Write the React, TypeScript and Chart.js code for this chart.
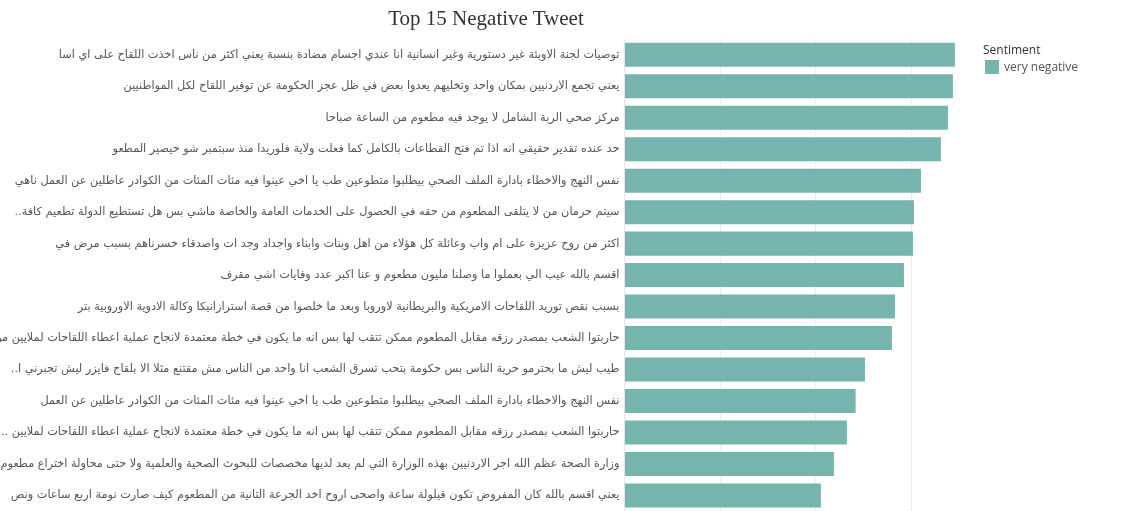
import React, { useEffect, useRef } from "react";
import { Chart, registerables } from "chart.js";

Chart.register(...registerables);

const TITLE = "Top 15 Negative Tweet";
const LEGEND_TITLE = "Sentiment";
const SERIES_NAME = "very negative";

const tweets: string[] = [
  "توصيات لجنة الاوبئة غير دستورية وغير انسانية انا عندي اجسام مضادة بنسبة يعني اكثر من ناس اخذت اللقاح على اي اسا",
  "يعني تجمع الاردنيين بمكان واحد وتخليهم يعدوا بعض في ظل عجز الحكومة عن توفير اللقاح لكل المواطنيين",
  "مركز صحي الربة الشامل لا يوجد فيه مطعوم من الساعة صباحا",
  "حد عنده تقدير حقيقي انه اذا تم فتح القطاعات بالكامل كما فعلت ولاية فلوريدا منذ سبتمبر شو حيصير المطعو",
  "نفس النهج والاخطاء بادارة الملف الصحي بيطلبوا متطوعين طب يا اخي عينوا فيه مئات المئات من الكوادر عاطلين عن العمل ناهي",
  "سيتم حرمان من لا يتلقى المطعوم من حقه في الحصول على الخدمات العامة والخاصة ماشي بس هل تستطيع الدولة تطعيم كافة..",
  "اكثر من روح عزيزة على ام واب وعائلة كل هؤلاء من اهل وبنات وابناء واجداد وجد ات واصدقاء خسرناهم بسبب مرض في",
  "اقسم بالله عيب الي بعملوا ما وصلنا مليون مطعوم و عنا اكبر عدد وفايات اشي مقرف",
  "بسبب نقص توريد اللقاحات الامريكية والبريطانية لاوروبا وبعد ما خلصوا من قصة استرازانيكا وكالة الادوية الاوروبية بتر",
  "حاربتوا الشعب بمصدر رزقه مقابل المطعوم ممكن تتقب لها بس انه ما يكون في خطة معتمدة لانجاح عملية اعطاء اللقاحات لملايين من",
  "طيب ليش ما بحترمو حرية الناس بس حكومة بتحب تسرق الشعب انا واحد من الناس مش مقتنع مثلا الا بلقاح فايزر ليش تجبرني ا..",
  "نفس النهج والاخطاء بادارة الملف الصحي بيطلبوا متطوعين طب يا اخي عينوا فيه مئات المئات من الكوادر عاطلين عن العمل",
  "حاربتوا الشعب بمصدر رزقه مقابل المطعوم ممكن تتقب لها بس انه ما يكون في خطة معتمدة لانجاح عملية اعطاء اللقاحات لملايين ..",
  "وزارة الصحة عظم الله اجر الاردنيين بهذه الوزارة التي لم يعد لديها مخصصات للبحوث الصحية والعلمية ولا حتى محاولة اختراع مطعوم..",
  "يعني اقسم بالله كان المفروض تكون قيلولة ساعة واصحى اروح اخد الجرعة التانية من المطعوم كيف صارت نومة اربع ساعات ونص",
];

const negativeScore: number[] = [
  3.457, 3.436, 3.384, 3.311, 3.102, 3.029, 3.018, 2.924, 2.83, 2.798, 2.516,
  2.418, 2.327, 2.191, 2.055,
];

const xMax = 3.5;

const BAR_COLOR = "#76b5ae";
const GRID_COLOR = "#eeeeee";

export default function App() {
  const canvasRef = useRef<HTMLCanvasElement | null>(null);

  useEffect(() => {
    document.body.style.margin = "0";
    document.body.style.overflow = "hidden";
    const canvas = canvasRef.current;
    if (!canvas) return;
    const chart = new Chart(canvas, {
      type: "bar",
      data: {
        labels: tweets,
        datasets: [
          {
            label: SERIES_NAME,
            data: negativeScore,
            backgroundColor: BAR_COLOR,
            borderWidth: 0,
            categoryPercentage: 1,
            barPercentage: 0.763,
          },
        ],
      },
      options: {
        indexAxis: "y",
        animation: false,
        responsive: false,
        maintainAspectRatio: false,
        layout: { padding: { top: 39, bottom: 0, left: 0, right: 163 } },
        plugins: {
          legend: { display: false },
          title: { display: false },
          tooltip: { enabled: false },
        },
        scales: {
          x: {
            min: 0,
            max: xMax,
            grid: { color: GRID_COLOR, drawTicks: false, lineWidth: 1 },
            border: { display: false },
            ticks: { display: false, stepSize: 1, includeBounds: false },
            afterFit: (scale: any) => {
              scale.height = 0;
            },
          },
          y: {
            grid: { display: false, drawTicks: false },
            border: { display: true, color: "#e6e6e6" },
            afterFit: (scale: any) => {
              scale.width = 624.5;
            },
            ticks: {
              autoSkip: false,
              padding: 5,
              color: "#555555",
              font: { family: "'DejaVu Sans', sans-serif", size: 11.3 },
              callback: function (this: any, _v: any, i: number) {
                return "\u202B" + tweets[i] + "\u202C";
              },
            },
          },
        },
      },
    });
    return () => chart.destroy();
  }, []);

  return (
    <div style={{ position: "relative", width: 1122, height: 511, overflow: "hidden" }}>
      <canvas ref={canvasRef} width={1122} height={523} style={{ position: "absolute", left: 0, top: 0 }} />
      <div
        style={{
          position: "absolute",
          left: 0,
          width: 972,
          top: 6,
          textAlign: "center",
          fontFamily: "'Liberation Serif', serif",
          fontSize: 21,
          color: "#333333",
        }}
      >
        {TITLE}
      </div>
      <div
        style={{
          position: "absolute",
          left: 983,
          top: 41,
          fontFamily: "'Open Sans', sans-serif",
          fontSize: 12,
          color: "#333333",
        }}
      >
        {LEGEND_TITLE}
      </div>
      <div
        style={{
          position: "absolute",
          left: 985,
          top: 60,
          width: 14,
          height: 14,
          background: BAR_COLOR,
        }}
      />
      <div
        style={{
          position: "absolute",
          left: 1004,
          top: 58,
          fontFamily: "'Open Sans', sans-serif",
          fontSize: 12,
          color: "#555555",
        }}
      >
        {SERIES_NAME}
      </div>
    </div>
  );
}
